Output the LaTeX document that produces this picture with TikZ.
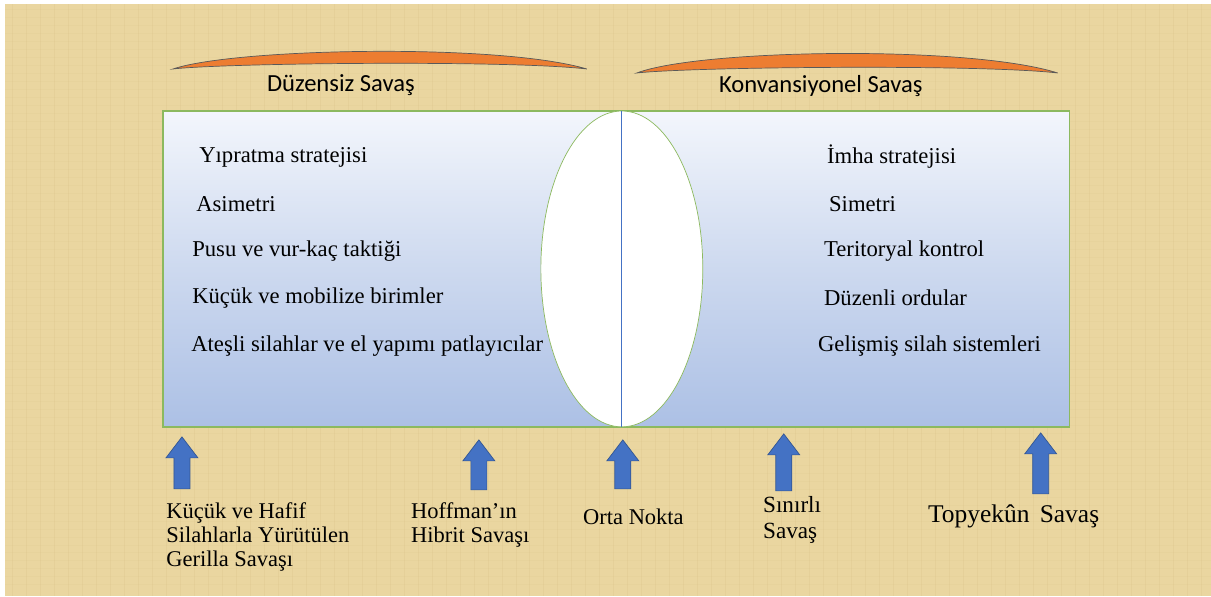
\documentclass[tikz,border=0pt]{standalone}
\usepackage{fontspec}
\setmainfont{Liberation Serif}
\newfontfamily\headfont{Carlito}
\usetikzlibrary{shapes.geometric}

\definecolor{parch}{RGB}{234,214,160}
\definecolor{parchdark}{RGB}{205,178,115}
\definecolor{boxedge}{RGB}{140,185,95}
\definecolor{boxtop}{RGB}{243,246,252}
\definecolor{boxmid}{RGB}{205,217,239}
\definecolor{boxbot}{RGB}{172,192,229}
\definecolor{arrowblue}{RGB}{68,114,196}
\definecolor{archorange}{RGB}{237,125,49}

\begin{document}
\begin{tikzpicture}[x=0.02cm, y=-0.02cm,
  item/.style={anchor=west, inner sep=0pt, font=\fontsize{12.9}{15}\selectfont},
  lbl/.style={anchor=west, inner sep=0pt, align=left, font=\fontsize{12.8}{13.7}\selectfont},
  head/.style={inner sep=0pt, font=\headfont\fontsize{14}{16}\selectfont},
  blockarrow/.style={draw=arrowblue!75!black, fill=arrowblue, line width=0.4pt},
  arch/.style={fill=archorange, draw=black!65, line width=0.4pt},
]
% background
\fill[white] (0,0) rectangle (1211,596);
\fill[parch] (5,4) rectangle (1211,596);
\foreach \x in {12,26,...,1205}
  \draw[parchdark, opacity=0.15, line width=0.4pt] (\x,4) -- (\x,596);
\foreach \y in {9,17,...,592}
  \draw[parchdark, opacity=0.08, line width=0.4pt] (5,\y) -- (1211,\y);

% arches and headings
\filldraw[arch] (173,69) .. controls (235,48) and (500,43) .. (587,69)
  .. controls (510,60) and (225,63) .. (173,69) -- cycle;
\filldraw[arch] (637,73) .. controls (700,49) and (970,45) .. (1058,73)
  .. controls (980,64) and (690,67) .. (637,73) -- cycle;
\node[head] (irr) at (341,85) {Düzensiz Savaş};
\node[head] (conv) at (821,86) {Konvansiyonel Savaş};

% panel with middle ellipse
\node[draw=boxedge, line width=0.8pt, top color=boxtop, bottom color=boxbot,
  middle color=boxmid, minimum width=18.14cm, minimum height=6.32cm,
  inner sep=0pt] (panel) at (616.5,269) {};
\node[ellipse, draw=boxedge, fill=white, minimum width=3.24cm, minimum height=6.32cm,
  inner sep=0pt] (mid) at (622,269) {};
\draw[arrowblue, line width=0.7pt] (mid.north) -- (mid.south);

% left column
\node[item] (l1) at (199,157) {Yıpratma stratejisi};
\node[item] (l2) at (196,204) {Asimetri};
\node[item] (l3) at (192,251) {Pusu ve vur-kaç taktiği};
\node[item] (l4) at (192,298) {Küçük ve mobilize birimler};
\node[item] (l5) at (191,346) {Ateşli silahlar ve el yapımı patlayıcılar};

% right column
\node[item] (r1) at (827,157) {İmha stratejisi};
\node[item] (r2) at (829,204) {Simetri};
\node[item] (r3) at (824,251) {Teritoryal kontrol};
\node[item] (r4) at (824,298) {Düzenli ordular};
\node[item] (r5) at (818,346) {Gelişmiş silah sistemleri};

% arrows: x / tip / tail
\foreach \x/\yt/\yb in {182/437/489, 479/440/490, 623/440/489, 784/434/491, 1041/433/494}
  \filldraw[blockarrow] (\x-8,\yb) -- (\x-8,\yt+21) -- (\x-16,\yt+21) -- (\x,\yt)
    -- (\x+16,\yt+21) -- (\x+8,\yt+21) -- (\x+8,\yb) -- cycle;

\node[lbl] (b1) at (166,537) {Küçük ve Hafif\\Silahlarla Yürütülen\\Gerilla Savaşı};
\node[lbl] (b2) at (411,525) {Hoffman’ın\\Hibrit Savaşı};
\node[lbl] (b3) at (583,517) {Orta Nokta};
\node[lbl, font=\fontsize{13.2}{14.5}\selectfont] (b4) at (763,520) {Sınırlı\\Savaş};
\node[lbl, font=\fontsize{14.5}{16}\selectfont] (b5) at (928,517) {Topyekûn\hspace{0.15em} Savaş};
\end{tikzpicture}
\end{document}
